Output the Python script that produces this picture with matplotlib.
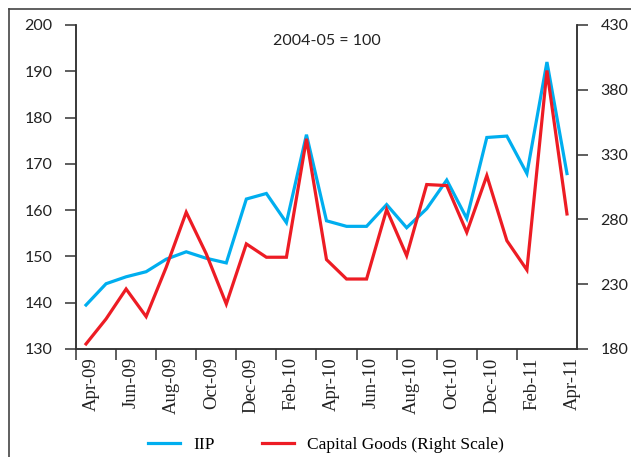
import matplotlib
matplotlib.use("Agg")
import matplotlib.pyplot as plt
import matplotlib.transforms as mtransforms
from matplotlib.lines import Line2D

months = ["Apr-09", "May-09", "Jun-09", "Jul-09", "Aug-09", "Sep-09", "Oct-09",
          "Nov-09", "Dec-09", "Jan-10", "Feb-10", "Mar-10", "Apr-10", "May-10",
          "Jun-10", "Jul-10", "Aug-10", "Sep-10", "Oct-10", "Nov-10", "Dec-10",
          "Jan-11", "Feb-11", "Mar-11", "Apr-11"]
iip = [139.5, 144.1, 145.6, 146.7, 149.4, 151.0, 149.6, 148.6, 162.4, 163.6,
       157.3, 176.3, 157.7, 156.5, 156.5, 161.2, 156.2, 160.3, 166.5, 158.2,
       175.7, 176.0, 167.9, 192.0, 167.9]
capital_goods = [183.9, 203.2, 226.3, 205.0, 243.0, 285.5, 253.4, 214.7, 261.1,
                 250.8, 250.8, 342.2, 249.0, 234.0, 234.0, 287.6, 252.0, 306.9,
                 306.1, 270.0, 313.8, 263.6, 241.0, 394.9, 284.2]
left_ticks = [130, 140, 150, 160, 170, 180, 190, 200]
right_ticks = [180, 230, 280, 330, 380, 430]

BLUE = "#00aeef"
RED = "#ed1c24"
SPINE = "#333333"
num_font = "Lato"
txt_font = "Liberation Serif"

fig = plt.figure(figsize=(6.31, 4.57), dpi=100)
ax = fig.add_axes([76 / 631, 1 - 349 / 457, 501 / 631, 324 / 457])
ax2 = ax.twinx()

x = list(range(len(months)))
ax.plot(x, iip, color=BLUE, lw=2.3, solid_joinstyle="miter", label="IIP")
ax2.plot(x, capital_goods, color=RED, lw=2.3, solid_joinstyle="miter",
         label="Capital Goods (Right Scale)")

ax.set_xlim(-0.5, len(months) - 0.5)
ax.set_ylim(130, 200)
ax2.set_ylim(180, 430)
ax.set_yticks(left_ticks)
ax2.set_yticks(right_ticks)

# tick marks sit between categories, labels on every second month
ax.set_xticks([i - 0.5 for i in range(0, len(months) - 1, 2)])
ax.set_xticklabels([])
ax.set_xticks(x[::2], minor=True)
ax.set_xticklabels(months[::2], minor=True, rotation=90, fontfamily=txt_font,
                   fontsize=13.5, color="#222222")
ax.tick_params(axis="x", which="major", direction="out", length=8, width=1.1,
               color=SPINE)
ax.tick_params(axis="x", which="minor", length=0, pad=6)
offset = mtransforms.ScaledTranslation(5 / 100, 0, fig.dpi_scale_trans)
for lbl in ax.get_xticklabels(minor=True):
    lbl.set_transform(lbl.get_transform() + offset)

ax.tick_params(axis="y", direction="out", length=8, width=1.1, color=SPINE,
               pad=9, labelsize=11.5, labelcolor="#222222")
ax2.tick_params(axis="y", direction="out", length=8, width=1.1, color=SPINE,
                pad=9, labelsize=11.5, labelcolor="#222222")
for lbl in ax.get_yticklabels() + ax2.get_yticklabels():
    lbl.set_fontfamily(num_font)

for a in (ax, ax2):
    a.spines["top"].set_visible(False)
    for s in ("left", "right", "bottom"):
        a.spines[s].set_color(SPINE)
        a.spines[s].set_linewidth(1.1)

ax.text(0.5, 0.95, "2004-05 = 100", transform=ax.transAxes, ha="center",
        va="center", fontsize=11.5, fontfamily=num_font, color="#222222")

h1, l1 = ax.get_legend_handles_labels()
h2, l2 = ax2.get_legend_handles_labels()
fig.legend(h1 + h2, l1 + l2, loc="center", bbox_to_anchor=(326 / 631, 1 - 445 / 457),
           ncol=2, frameon=False, handlelength=1.85, handletextpad=0.75,
           columnspacing=2.7, prop={"family": txt_font, "size": 12.5})

# outer frame, only left and top edges visible in the crop
fig.add_artist(Line2D([9 / 631, 9 / 631], [0, 1 - 9 / 457], color="#444444",
                      lw=1.2, transform=fig.transFigure))
fig.add_artist(Line2D([9 / 631, 1], [1 - 9 / 457, 1 - 9 / 457], color="#444444",
                      lw=1.2, transform=fig.transFigure))

fig.savefig("out.png", dpi=100)
